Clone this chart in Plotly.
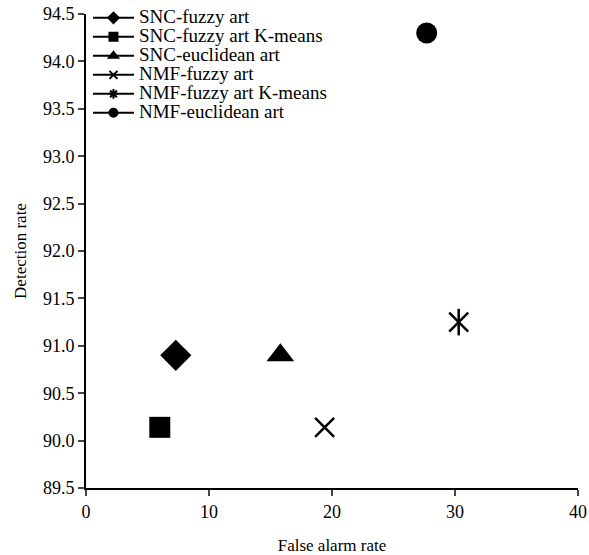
import plotly.graph_objects as go

# Method results: false alarm rate (%) vs detection rate (%)
methods = ["SNC-fuzzy art", "SNC-fuzzy art K-means", "SNC-euclidean art",
           "NMF-fuzzy art", "NMF-fuzzy art K-means", "NMF-euclidean art"]
false_alarm = [7.3, 6.0, 15.8, 19.4, 30.3, 27.7]
detection = [90.9, 90.14, 90.9, 90.14, 91.25, 94.3]

symbols = ["diamond", "square", "triangle-up", "x-thin-open", "asterisk", "circle"]
sizes = [24, 21, 24, 19, 19, 21]

x_ticks = [0, 10, 20, 30, 40]
y_ticks = [89.5, 90.0, 90.5, 91.0, 91.5, 92.0, 92.5, 93.0, 93.5, 94.0, 94.5]

FONT = "Liberation Serif"
fig = go.Figure()

# Legend entries: small marker on a short line
legend_symbols = ["diamond", "square", "triangle-up", "x-thin-open", "asterisk-open", "circle"]
for name, sym in zip(methods, legend_symbols):
    fig.add_trace(go.Scatter(
        x=[None], y=[None], mode="lines+markers",
        name=f"<span style='font-size:19px'>{name}</span>",
        line=dict(color="black", width=2),
        marker=dict(symbol=sym, size=8, color="black",
                    line=dict(color="black", width=2)),
        showlegend=True,
    ))

# Data points
for i, name in enumerate(methods):
    sym = symbols[i]
    if sym == "asterisk":
        # six-armed star: an x plus a vertical bar
        for s in ["x-thin-open", "line-ns-open"]:
            fig.add_trace(go.Scatter(
                x=[false_alarm[i]], y=[detection[i]], mode="markers",
                marker=dict(symbol=s, size=sizes[i], color="black",
                            line=dict(color="black", width=2.5)),
                showlegend=False, name=name,
            ))
    elif sym == "x-thin-open":
        fig.add_trace(go.Scatter(
            x=[false_alarm[i]], y=[detection[i]], mode="markers",
            marker=dict(symbol=sym, size=sizes[i], color="black",
                        line=dict(color="black", width=2.5)),
            showlegend=False, name=name,
        ))
    else:
        fig.add_trace(go.Scatter(
            x=[false_alarm[i]], y=[detection[i]], mode="markers",
            marker=dict(symbol=sym, size=sizes[i], color="black",
                        line=dict(width=0)),
            showlegend=False, name=name,
        ))

fig.update_layout(
    width=589, height=555,
    margin=dict(l=86, r=11, t=14, b=67, autoexpand=False),
    plot_bgcolor="white", paper_bgcolor="white",
    font=dict(family=FONT, size=18, color="black"),
    legend=dict(x=0.004, y=1.0225, xanchor="left", yanchor="top",
                bgcolor="rgba(0,0,0,0)", font=dict(family=FONT, size=12),
                itemwidth=41, tracegroupgap=0),
    xaxis=dict(
        range=[0, 40], tickvals=x_ticks, ticks="outside", ticklen=6,
        tickwidth=2, showline=True, linewidth=2, linecolor="black",
        showgrid=False, zeroline=False, automargin=False,
        tickfont=dict(size=18),
        title=dict(text="False alarm rate", font=dict(size=17), standoff=20),
    ),
    yaxis=dict(
        range=[89.5, 94.5], tickvals=y_ticks, tickformat=".1f", ticks="outside",
        ticklen=6, tickwidth=2, showline=True, linewidth=2, linecolor="black",
        showgrid=False, zeroline=False, automargin=False,
        tickfont=dict(size=18),
        title=dict(text="Detection rate", font=dict(size=17), standoff=12),
    ),
)

fig.write_html("out.html")
